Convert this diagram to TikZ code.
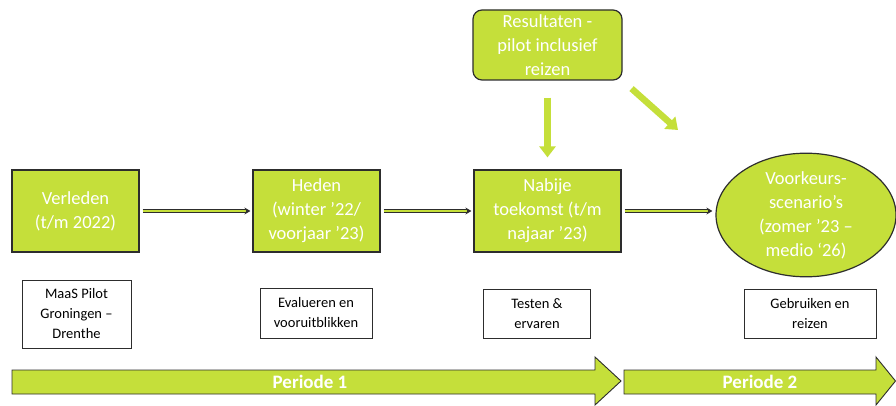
\documentclass[tikz,border=0pt]{standalone}
\usepackage{fontspec}
\setmainfont{Carlito}
\usetikzlibrary{arrows.meta,shapes.geometric}
\definecolor{limegreen}{RGB}{197,223,58}
\definecolor{limeedge}{RGB}{160,190,50}
\definecolor{boxedge}{RGB}{45,45,45}
\begin{document}
\begin{tikzpicture}
[x=1pt,y=-1pt,
  phasebox/.style={shape=rectangle,draw=boxedge,line width=1.2pt,fill=limegreen,
    text=white,inner sep=0pt,align=center,font=\fontsize{18.5}{24}\selectfont},%
  notebox/.style={shape=rectangle,draw=boxedge,line width=0.9pt,fill=white,
    inner sep=0pt,align=center,font=\fontsize{14.5}{20}\selectfont},%
  steplink/.style={draw=boxedge,double=limegreen,double distance=1.8pt,line width=1pt,
    -{Stealth[length=6pt,width=7pt]}},%
  feedlink/.style={draw=limegreen,line width=6.5pt,
    -{Triangle[length=11pt,width=16pt]}},%
  periodarrow/.style={draw=boxedge,line width=0.9pt,fill=limegreen},%
  periodtext/.style={text=white,font=\fontsize{19}{22}\selectfont\bfseries}]
\useasboundingbox (0,0) rectangle (896,406);
%% phase boxes
\foreach \nodename/\x/\y/\w/\h/\txt in {verleden/75.5/211/127/82/{Verleden\\(t/m 2022)},
  heden/316.5/211/127/82/{Heden\\(winter ’22/\\voorjaar ’23)},
  nabije/547.5/211/147/82/{Nabije\\toekomst (t/m\\najaar ’23)}} {
  \node (\nodename) at (\x,\y) [phasebox,minimum width=\w pt,minimum height=\h pt] {\txt};
}
\node (resultaten) at (547.5,45) [phasebox,rounded corners=9pt,
  minimum width=149pt,minimum height=70pt] {Resultaten -\\pilot inclusief\\reizen};
\node (voorkeur) at (806,215) [phasebox,shape=ellipse,
  minimum width=180pt,minimum height=104pt] {Voorkeurs-\\scenario’s\\(zomer ’23 –\\medio ‘26)};
%% note boxes
\foreach \nodename/\x/\y/\w/\h/\txt in {maas/76.5/314/109/68/{MaaS Pilot\\Groningen –\\Drenthe},
  evalueren/316/313/112/50/{Evalueren en\\vooruitblikken},
  testen/537/313.5/107/49/{Testen \&\\ervaren},
  gebruiken/810/313.5/132/49/{Gebruiken en\\reizen}} {
  \node (\nodename) at (\x,\y) [notebox,minimum width=\w pt,minimum height=\h pt] {\txt};
}
%% links
\path
\foreach \startnode/\endnode in {verleden/heden, heden/nabije} {
  (\startnode) edge[steplink,shorten <=3pt,shorten >=2pt] (\endnode)
};
\draw[steplink,shorten <=3pt,shorten >=3pt] (nabije.east) -- (nabije.east -| voorkeur.west);
\coordinate (diagend) at (678,130);
\draw[feedlink,shorten <=17pt,shorten >=12pt] (resultaten.south) -- (nabije.north);
\draw[feedlink,shorten <=12pt] (resultaten.south east) -- (diagend);
%% periods
\draw[periodarrow] (12,370) -- (595,370) -- (595,357) -- (621,381) -- (595,405)
  -- (595,394) -- (12,394) -- cycle;
\draw[periodarrow] (624,370) -- (876,370) -- (876,357) -- (895.5,381) -- (876,405)
  -- (876,394) -- (624,394) -- cycle;
\node (periode1) at (310,382) [periodtext] {Periode 1};
\node (periode2) at (760,382) [periodtext] {Periode 2};
\end{tikzpicture}
\end{document}
